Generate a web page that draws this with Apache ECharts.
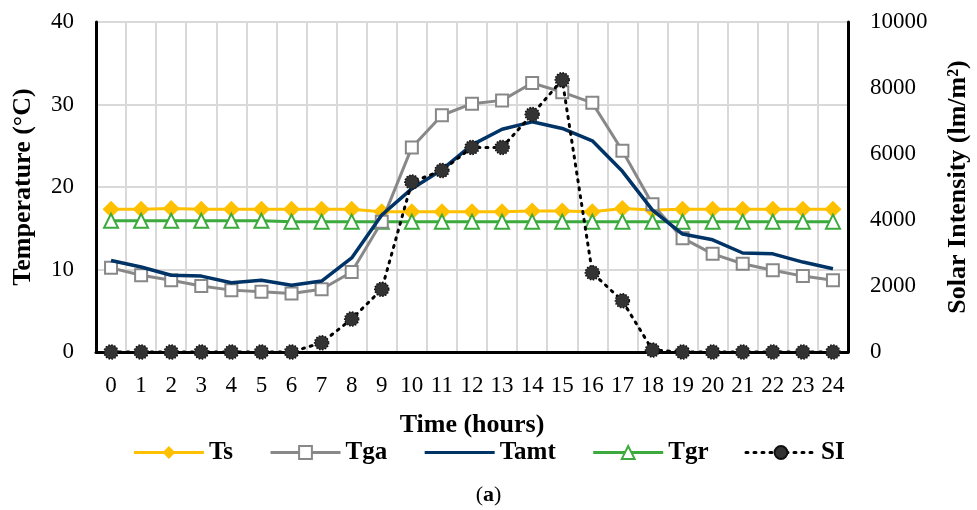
<!DOCTYPE html>
<html>
<head>
<meta charset="utf-8">
<script src="https://cdn.jsdelivr.net/npm/echarts@6/dist/echarts.min.js"></script>
<style>
  html, body { margin: 0; padding: 0; background: #fff; }
  #chart { width: 977px; height: 510px; }
</style>
</head>
<body>
<div id="chart"></div>
<script>
const hours = ['0','1','2','3','4','5','6','7','8','9','10','11','12','13','14','15','16','17','18','19','20','21','22','23','24']
const ts = [17.3,17.3,17.4,17.3,17.3,17.3,17.3,17.3,17.3,17.0,17.0,17.0,17.0,17.0,17.1,17.1,17.0,17.4,17.2,17.3,17.3,17.3,17.3,17.3,17.3]
const tga = [10.2,9.3,8.7,8.0,7.5,7.3,7.1,7.6,9.7,15.8,24.8,28.7,30.1,30.5,32.6,31.5,30.2,24.4,17.9,13.8,11.9,10.7,9.9,9.2,8.7]
const tamt = [11.1,10.3,9.3,9.2,8.4,8.7,8.1,8.6,11.4,16.6,19.8,22.1,25.1,27.0,27.9,27.1,25.6,21.9,17.2,14.3,13.6,12.0,11.9,10.9,10.1]
const tgr = [15.9,15.9,15.9,15.9,15.9,15.9,15.8,15.8,15.8,15.8,15.8,15.8,15.8,15.8,15.8,15.8,15.8,15.8,15.8,15.8,15.8,15.8,15.8,15.8,15.8]
const si = [0,0,0,0,0,0,0,280,1000,1900,5150,5500,6200,6200,7200,8250,2400,1550,60,0,0,0,0,0,0]

const font = '"Liberation Serif", "DejaVu Serif", serif'
const myChart = echarts.init(document.getElementById('chart'), null, { renderer: 'canvas' })

let option = {
	animation: false,
	textStyle: { fontFamily: font },
	title: {
		text: '({b|a})',
		left: 'center',
		top: 479,
		textStyle: {
			fontFamily: font, fontSize: 22, fontWeight: 'normal', color: '#000',
			rich: { b: { fontFamily: font, fontSize: 22, fontWeight: 'bold', color: '#000' } },
		},
	},
	grid: { left: 96, right: 129, top: 22, bottom: 158, outerBoundsMode: 'none' },
	legend: {
		top: 435,
		left: 'center',
		itemWidth: 70,
		itemHeight: 16,
		itemGap: 36,
		lineStyle: { width: 3 },
		textStyle: { fontFamily: font, fontSize: 25, fontWeight: 'bold', color: '#000' },
		data: [
			'Ts',
			'Tga',
			{ name: 'Tamt', itemStyle: { opacity: 0 } },
			'Tgr',
			'SI',
		],
	},
	xAxis: {
		type: 'category',
		data: hours,
		boundaryGap: true,
		name: 'Time (hours)',
		nameLocation: 'middle',
		nameGap: 60,
		nameTextStyle: { fontFamily: font, fontSize: 26, fontWeight: 'bold', color: '#000' },
		axisLine: { lineStyle: { color: '#000', width: 3 } },
		axisTick: { show: false },
		axisLabel: { fontFamily: font, fontSize: 23, color: '#000', margin: 22 },
		splitLine: { show: true, lineStyle: { color: '#d9d9d9', width: 2 } },
	},
	yAxis: [
		{
			type: 'value',
			min: 0,
			max: 40,
			interval: 10,
			name: 'Temperature (°C)',
			nameLocation: 'middle',
			nameGap: 60,
			nameTextStyle: { fontFamily: font, fontSize: 26, fontWeight: 'bold', color: '#000' },
			axisLine: { show: true, lineStyle: { color: '#000', width: 3 } },
			axisTick: { show: false },
			axisLabel: { fontFamily: font, fontSize: 23, color: '#000', margin: 22 },
			splitLine: { show: true, lineStyle: { color: '#d9d9d9', width: 2 } },
		},
		{
			type: 'value',
			min: 0,
			max: 10000,
			interval: 2000,
			name: 'Solar Intensity (lm/m²)',
			nameLocation: 'middle',
			nameGap: 97,
			nameTextStyle: { fontFamily: font, fontSize: 26, fontWeight: 'bold', color: '#000' },
			axisLine: { show: true, lineStyle: { color: '#000', width: 3 } },
			axisTick: { show: false },
			axisLabel: { fontFamily: font, fontSize: 23, color: '#000', margin: 22, formatter: (v) => String(v) },
			splitLine: { show: false },
		},
	],
	series: [
		{
			name: 'Ts',
			type: 'line',
			data: ts,
			symbol: 'diamond',
			symbolSize: 17,
			itemStyle: { color: '#FFC000' },
			lineStyle: { color: '#FFC000', width: 3 },
			z: 3,
		},
		{
			name: 'Tga',
			type: 'line',
			data: tga,
			symbol: 'rect',
			symbolSize: 12,
			itemStyle: { color: '#fff', borderColor: '#888888', borderWidth: 2 },
			lineStyle: { color: '#888888', width: 3 },
			z: 4,
		},
		{
			name: 'Tamt',
			type: 'line',
			data: tamt,
			symbol: 'none',
			itemStyle: { color: '#003366' },
			lineStyle: { color: '#003366', width: 3.5 },
			z: 5,
		},
		{
			name: 'Tgr',
			type: 'line',
			data: tgr,
			symbol: 'triangle',
			symbolSize: 14,
			itemStyle: { color: '#fff', borderColor: '#3DAA3D', borderWidth: 2 },
			lineStyle: { color: '#3DAA3D', width: 3 },
			z: 3,
		},
		{
			name: 'SI',
			type: 'line',
			yAxisIndex: 1,
			data: si,
			symbol: 'circle',
			symbolSize: 14,
			itemStyle: { color: '#333333', borderColor: '#111', borderWidth: 1.5, borderType: 'dotted' },
			lineStyle: { color: '#000', width: 3, type: [2, 6], cap: 'round' },
			z: 6,
		},
	],
}
myChart.setOption(option)

window.addEventListener('resize', () => {
	myChart.resize()
})
</script>
</body>
</html>
